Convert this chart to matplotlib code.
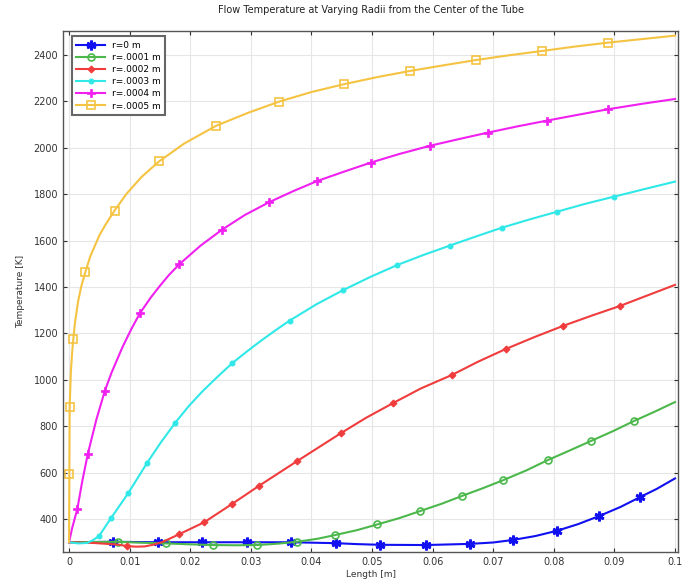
import matplotlib
matplotlib.use("Agg")
import matplotlib.pyplot as plt
import numpy as np

title = "Flow Temperature at Varying Radii from the Center of the Tube"
xlabel = "Length [m]"
ylabel = "Temperature [K]"
labels = ["r=0 m", "r=.0001 m", "r=.0002 m", "r=.0003 m", "r=.0004 m", "r=.0005 m"]

# r = 0 m
x0 = [0, 0.0072, 0.0146, 0.022, 0.0293, 0.0367, 0.0441, 0.0475, 0.0514, 0.0589, 0.0662, 0.070,
      0.0733, 0.077, 0.0806, 0.084, 0.0875, 0.091, 0.0942, 0.097, 0.1]
y0 = [300, 302, 300, 300, 300, 300, 296, 292, 289, 288, 293, 299,
      310, 327, 350, 378, 413, 452, 494, 530, 575]
m0 = [1, 2, 3, 4, 5, 6, 8, 9, 10, 12, 14, 16, 18]

# r = .0001 m
x1 = [0, 0.004, 0.008, 0.012, 0.016, 0.020, 0.0237, 0.0275, 0.0311, 0.0345, 0.0376, 0.041, 0.0439,
      0.0475, 0.0509, 0.0545, 0.0579, 0.0615, 0.0649, 0.0683, 0.0717, 0.0755, 0.079, 0.0825,
      0.0861, 0.0897, 0.0932, 0.0966, 0.1]
y1 = [300, 301, 302, 298, 295, 291, 288, 287, 288, 294, 302, 315, 331,
      352, 377, 404, 434, 466, 500, 533, 568, 610, 654, 694,
      736, 778, 822, 862, 904]
m1 = [2, 4, 6, 8, 10, 12, 14, 16, 18, 20, 22, 24, 26]

# r = .0002 m
x2 = [0, 0.004, 0.008, 0.0095, 0.011, 0.0125, 0.014, 0.0155, 0.0182, 0.0223, 0.0269, 0.0314,
      0.0376, 0.0448, 0.049, 0.0535, 0.058, 0.0632, 0.0675, 0.0721, 0.0768, 0.0815, 0.0862,
      0.0909, 0.0955, 0.1]
y2 = [300, 297, 290, 284, 281, 282, 290, 302, 335, 386, 465, 544,
      649, 769, 836, 900, 962, 1021, 1078, 1133, 1184, 1232, 1276,
      1318, 1364, 1409]
m2 = [3, 8, 9, 10, 11, 12, 13, 15, 17, 19, 21, 23]

# r = .0003 m
x3 = [0, 0.0015, 0.003, 0.004, 0.00495, 0.0069, 0.0098, 0.0129, 0.0152, 0.0175, 0.0197, 0.022,
      0.0245, 0.0269, 0.0292, 0.0315, 0.034, 0.0364, 0.0408, 0.0452, 0.0497, 0.0542, 0.0585,
      0.0628, 0.0672, 0.0715, 0.076, 0.0805, 0.085, 0.0899, 0.095, 0.1]
y3 = [300, 295, 297, 310, 327, 403, 513, 643, 732, 814, 885, 950,
      1013, 1071, 1119, 1165, 1212, 1255, 1325, 1386, 1443, 1495, 1538,
      1578, 1618, 1656, 1691, 1724, 1757, 1789, 1822, 1854]
m3 = [4, 5, 6, 7, 9, 13, 17, 19, 21, 23, 25, 27, 29]

# r = .0004 m
x4 = [0, 0.0005, 0.00137, 0.0022, 0.0031, 0.0045, 0.0059, 0.007, 0.0088, 0.0103, 0.0117, 0.0135,
      0.015, 0.0165, 0.0182, 0.0217, 0.0252, 0.029, 0.033, 0.037, 0.041, 0.0455, 0.0498,
      0.0545, 0.0595, 0.0643, 0.0691, 0.074, 0.0789, 0.084, 0.089, 0.0945, 0.1]
y4 = [300, 360, 444, 566, 681, 828, 952, 1030, 1140, 1220, 1287, 1355,
      1405, 1452, 1498, 1578, 1646, 1710, 1765, 1813, 1857, 1898, 1936,
      1973, 2008, 2037, 2065, 2092, 2117, 2142, 2166, 2189, 2210]
m4 = [2, 4, 6, 10, 14, 16, 18, 20, 22, 24, 26, 28, 30]

# r = .0005 m
x5 = [0, 0.00005, 0.0001, 0.0003, 0.0005, 0.0007, 0.001, 0.0015, 0.002, 0.0027, 0.0035, 0.005,
      0.006, 0.0075, 0.0095, 0.012, 0.0149, 0.019, 0.0243, 0.0295, 0.0347, 0.040, 0.0454,
      0.051, 0.0563, 0.062, 0.0672, 0.0725, 0.0781, 0.0835, 0.089, 0.0945, 0.1]
y5 = [300, 594, 884, 1035, 1115, 1176, 1251, 1339, 1401, 1465, 1532, 1622,
      1668, 1729, 1802, 1875, 1942, 2018, 2095, 2150, 2199, 2240, 2274,
      2305, 2331, 2356, 2378, 2398, 2417, 2436, 2453, 2468, 2483]
m5 = [1, 2, 5, 9, 13, 16, 18, 20, 22, 24, 26, 28, 30]

xs = [x0, x1, x2, x3, x4, x5]
ys = [y0, y1, y2, y3, y4, y5]
ms = [m0, m1, m2, m3, m4, m5]

colors = ["#1010f0", "#4cb84c", "#f03c3c", "#30e8e8", "#f020f0", "#f5c342"]
styles = [
    dict(marker=(6, 2, 0), markersize=7, markeredgewidth=2.0),
    dict(marker="o", markersize=5, fillstyle="none", markeredgewidth=1.2),
    dict(marker="D", markersize=3.5, markeredgewidth=0.8),
    dict(marker="o", markersize=3.5, markeredgewidth=0.8),
    dict(marker="P", markersize=6, markeredgewidth=0.5),
    dict(marker="s", markersize=5.5, fillstyle="none", markeredgewidth=1.2),
]

fig = plt.figure(figsize=(6.82, 5.82), dpi=100)
ax = fig.add_axes([63 / 682, 1 - 552 / 582, 615 / 682, 521 / 582])

for x, y, m, c, st, lab in zip(xs, ys, ms, colors, styles, labels):
    ax.plot(x, y, color=c, linewidth=1.5, markevery=m, label=lab, **st)

ax.set_xlim(-0.001, 0.1005)
ax.set_ylim(258, 2503)
ax.set_xticks(np.arange(0, 0.1001, 0.01))
ax.set_xticklabels(["0"] + [f"{v:.2f}" for v in np.arange(0.01, 0.095, 0.01)] + ["0.1"])
ax.set_yticks(np.arange(400, 2401, 200))
ax.grid(True, color="#e6e6e6", linewidth=0.8)
ax.set_axisbelow(True)
ax.tick_params(direction="in", top=True, right=True, labelsize=7, colors="#333333",
               length=3, width=0.8)
for sp in ax.spines.values():
    sp.set_color("#555555")
    sp.set_linewidth(1.0)

ax.set_title(title, fontsize=7, color="#222222", pad=13)
ax.set_xlabel(xlabel, fontsize=6.5, color="#333333", labelpad=2)
ax.set_ylabel(ylabel, fontsize=6.5, color="#333333", labelpad=6)

leg = ax.legend(loc="upper left", bbox_to_anchor=(0.014, 0.99), borderaxespad=0,
                fontsize=6.5, fancybox=False, framealpha=1, handlelength=3.2,
                labelspacing=0.35, borderpad=0.5)
leg.get_frame().set_edgecolor("#666666")
leg.get_frame().set_linewidth(1.5)

fig.savefig("out.png", dpi=100)
